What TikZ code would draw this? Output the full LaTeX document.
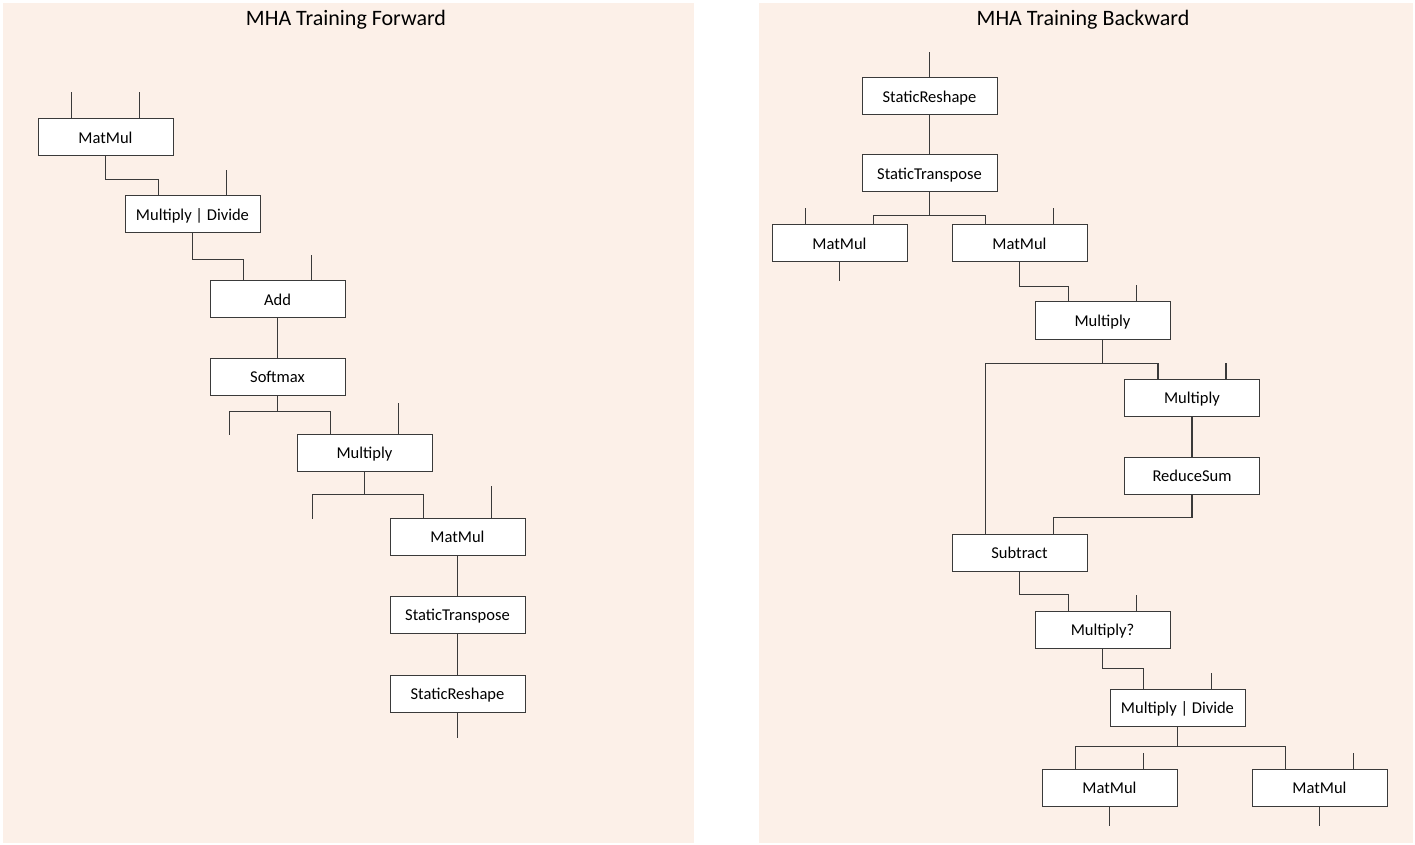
\documentclass[tikz,border=0pt]{standalone}
\usepackage{fontspec}
\setmainfont{Carlito}
\usetikzlibrary{calc}

\definecolor{panelbg}{HTML}{FCF0E8}
\definecolor{boxline}{HTML}{3A3A3A}

\tikzset{
    opbox/.style={draw=boxline, fill=white, line width=0.75pt, minimum width=101.25pt,
        minimum height=27.75pt, inner sep=0pt, text height=2ex, text depth=0.25ex,
        font=\fontsize{12.4}{14}\selectfont},
    wire/.style={draw=boxline, line width=0.8pt},
    paneltitle/.style={font=\fontsize{16.5}{19}\selectfont}
}

% input ports at a quarter and three quarters of the box top
\newcommand{\opports}[1]{%
    \coordinate (#1-l) at ($(#1.north west)!.25!(#1.north east)$);
    \coordinate (#1-r) at ($(#1.north west)!.75!(#1.north east)$);}

\begin{document}
\begin{tikzpicture}[x=0.75pt, y=-0.75pt]

        \useasboundingbox (0,0) rectangle (1415,845);

        % Panels
        \fill[panelbg] (3,3) rectangle (694,843);
        \fill[panelbg] (759,3) rectangle (1413,843);
        \node[paneltitle] (tfwd) at (346,20) {MHA Training Forward};
        \node[paneltitle] (tbwd) at (1083,20) {MHA Training Backward};

        % ---------------- Forward ----------------
        \node[opbox] (mm1) at (105.5,137.5) {MatMul};
        \node[opbox] (md1) at (192.5,214.5) {Multiply | Divide};
        \node[opbox] (add) at (277.5,299.5) {Add};
        \node[opbox] (sm) at (277.5,376.5) {Softmax};
        \node[opbox] (mul1) at (364.5,452.5) {Multiply};
        \node[opbox] (mm2) at (457.5,536.5) {MatMul};
        \node[opbox] (st1) at (457.5,614.5) {StaticTranspose};
        \node[opbox] (sr1) at (457.5,693.5) {StaticReshape};
        \opports{mm1} \opports{md1} \opports{add} \opports{mul1} \opports{mm2}

        % MatMul
        \draw[wire] (mm1-l) -- ++(0,-26);
        \draw[wire] (mm1-r) -- ++(0,-26);
        \draw[wire] (mm1.south) -- ++(0,23) -| (md1-l);
        % Multiply | Divide
        \draw[wire] (md1-r) -- ++(0,-25);
        \draw[wire] (md1.south) -- ++(0,26) -| (add-l);
        % Add, Softmax
        \draw[wire] (add-r) -- ++(0,-25);
        \draw[wire] (add.south) -- (sm.north);
        \draw[wire] (sm.south) -- ++(0,16) coordinate (smj);
        \draw[wire] (smj) -| ++(-48,23);
        \draw[wire] (smj) -| (mul1-l);
        % Multiply
        \draw[wire] (mul1-r) -- ++(0,-31);
        \draw[wire] (mul1.south) -- ++(0,23) coordinate (mulj);
        \draw[wire] (mulj) -| ++(-52,24);
        \draw[wire] (mulj) -| (mm2-l);
        % MatMul, StaticTranspose, StaticReshape
        \draw[wire] (mm2-r) -- ++(0,-32);
        \draw[wire] (mm2.south) -- (st1.north);
        \draw[wire] (st1.south) -- (sr1.north);
        \draw[wire] (sr1.south) -- ++(0,25);

        % ---------------- Backward ----------------
        \node[opbox] (sr2) at (929.5,96.5) {StaticReshape};
        \node[opbox] (st2) at (929.5,173.5) {StaticTranspose};
        \node[opbox] (mmA) at (839.5,243.5) {MatMul};
        \node[opbox] (mmB) at (1019.5,243.5) {MatMul};
        \node[opbox] (mulA) at (1102.5,320.5) {Multiply};
        \node[opbox] (mulB) at (1192,397.5) {Multiply};
        \node[opbox] (rs) at (1192,475.5) {ReduceSum};
        \node[opbox] (sub) at (1019.5,552.5) {Subtract};
        \node[opbox] (mq) at (1102.5,629.5) {Multiply?};
        \node[opbox] (md2) at (1177.5,707.5) {Multiply | Divide};
        \node[opbox] (mmC) at (1109.5,787.5) {MatMul};
        \node[opbox] (mmD) at (1319.5,787.5) {MatMul};
        \opports{mmA} \opports{mmB} \opports{mulA} \opports{mulB} \opports{sub}
        \opports{mq} \opports{md2} \opports{mmC} \opports{mmD}

        % StaticReshape, StaticTranspose
        \draw[wire] (sr2.north) -- ++(0,-25);
        \draw[wire] (sr2.south) -- (st2.north);
        \draw[wire] (st2.south) -- ++(0,23) coordinate (stj);
        \draw[wire] (stj) -| (mmA-r);
        \draw[wire] (stj) -| (mmB-l);
        % MatMul x2
        \draw[wire] (mmA-l) -- ++(0,-16);
        \draw[wire] (mmA.south) -- ++(0,19);
        \draw[wire] (mmB-r) -- ++(0,-16);
        \draw[wire] (mmB.south) -- ++(0,24) -| (mulA-l);
        % Multiply
        \draw[wire] (mulA-r) -- ++(0,-16);
        \draw[wire] (mulA.south) -- ++(0,24) coordinate (mulAj);
        \draw[wire] (mulAj) -| (sub-l);
        \draw[wire] (mulAj) -| (mulB-l);
        % Multiply, ReduceSum
        \draw[wire] (mulB-r) -- ++(0,-16);
        \draw[wire] (mulB.south) -- (rs.north);
        \draw[wire] (rs.south) -- ++(0,23) -| (sub-r);
        % Subtract, Multiply?
        \draw[wire] (sub.south) -- ++(0,23) -| (mq-l);
        \draw[wire] (mq-r) -- ++(0,-16);
        \draw[wire] (mq.south) -- ++(0,20) -| (md2-l);
        % Multiply | Divide
        \draw[wire] (md2-r) -- ++(0,-16);
        \draw[wire] (md2.south) -- ++(0,20) coordinate (mdj);
        \draw[wire] (mdj) -| (mmC-l);
        \draw[wire] (mdj) -| (mmD-l);
        % MatMul x2
        \draw[wire] (mmC-r) -- ++(0,-16);
        \draw[wire] (mmC.south) -- ++(0,19);
        \draw[wire] (mmD-r) -- ++(0,-16);
        \draw[wire] (mmD.south) -- ++(0,19);

    \end{tikzpicture}
\end{document}
